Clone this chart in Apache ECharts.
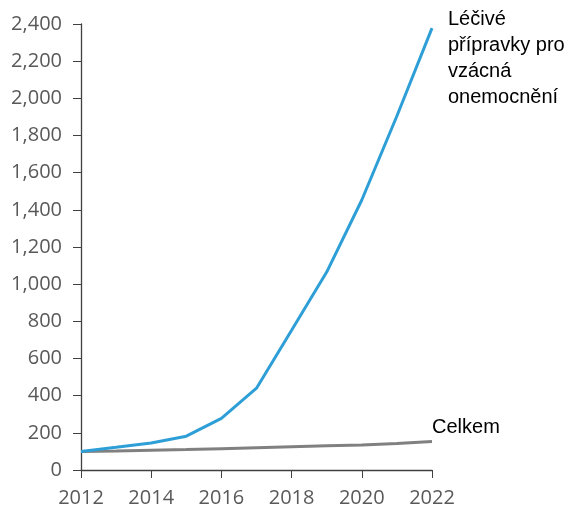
<!DOCTYPE html>
<html>
<head>
<meta charset="utf-8">
<script src="https://cdn.jsdelivr.net/npm/echarts@6/dist/echarts.min.js"></script>
<style>
  html, body { margin: 0; padding: 0; background: #fff; }
  #chart { width: 574px; height: 510px; }
</style>
</head>
<body>
<div id="chart"></div>
<script>
// Index, 2012 = 100
const years = ['2012','2013','2014','2015','2016','2017','2018','2019','2020','2021','2022'];
const rareDrugs = [100, 122, 145, 182, 278, 440, 752, 1065, 1453, 1905, 2378];
const total = [100, 102, 106, 110, 115, 120, 125, 130, 135, 142, 154];
const rareLabel = 'Léčivé\npřípravky pro\nvzácná\nonemocnění';
const totalLabel = 'Celkem';

const chart = echarts.init(document.getElementById('chart'));
const axisFont = { fontFamily: 'Open Sans', fontSize: 20, color: '#595959' };
const axisLine = { show: true, lineStyle: { color: '#404040', width: 1.3 } };

chart.setOption({
  animation: false,
  grid: { left: 81, right: 142, top: 24, bottom: 40 },
  xAxis: {
    type: 'category',
    data: years,
    boundaryGap: false,
    axisLine: axisLine,
    axisTick: { show: true, interval: 1, length: 8, lineStyle: { color: '#404040' } },
    axisLabel: Object.assign({ interval: 1, margin: 18 }, axisFont),
    splitLine: { show: false }
  },
  yAxis: {
    type: 'value',
    min: 0, max: 2400, interval: 200,
    axisLine: axisLine,
    axisTick: { show: true, length: 8, lineStyle: { color: '#404040' } },
    axisLabel: Object.assign({
      margin: 19,
      formatter: v => v.toLocaleString('en-US')
    }, axisFont),
    splitLine: { show: false }
  },
  series: [
    {
      name: totalLabel,
      type: 'line',
      data: total,
      symbol: 'none',
      z: 2,
      lineStyle: { color: '#808080', width: 3 },
      endLabel: {
        show: true,
        formatter: totalLabel,
        fontFamily: 'Liberation Sans',
        fontSize: 20,
        color: '#000',
        offset: [-8, -14]
      }
    },
    {
      name: 'rare',
      type: 'line',
      data: rareDrugs,
      symbol: 'none',
      z: 3,
      lineStyle: { color: '#2E9FD6', width: 3 },
      endLabel: {
        show: true,
        formatter: rareLabel,
        fontFamily: 'Liberation Sans',
        fontSize: 20,
        lineHeight: 26,
        color: '#000',
        offset: [8, 30]
      }
    }
  ]
});
</script>
</body>
</html>
